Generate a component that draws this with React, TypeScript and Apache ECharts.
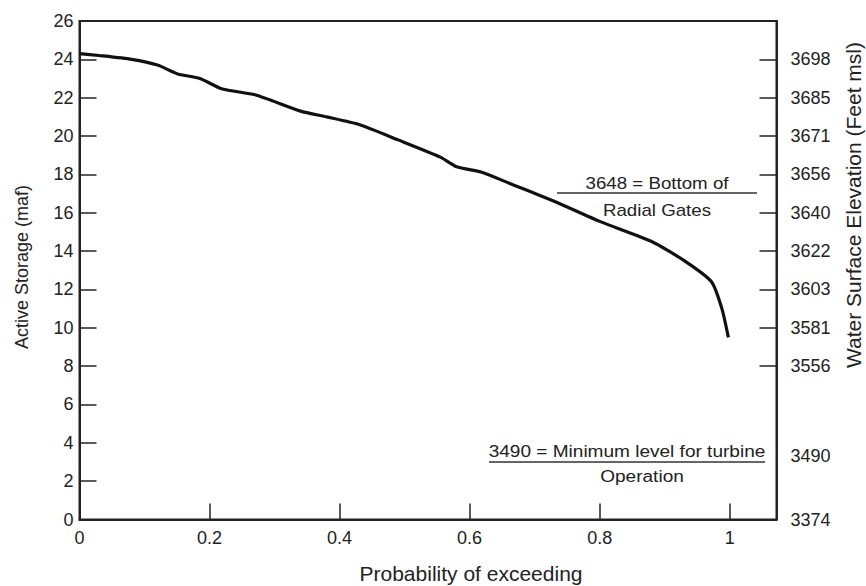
import React, { useEffect, useRef } from "react";
import * as echarts from "echarts";

const probability = [0, 0.03, 0.08, 0.12, 0.15, 0.185, 0.22, 0.27, 0.34, 0.38, 0.43, 0.49, 0.555, 0.58, 0.62, 0.66, 0.73, 0.8, 0.88, 0.93, 0.972, 0.988, 0.998];
const storage = [24.3, 24.2, 24.0, 23.7, 23.25, 23.0, 22.45, 22.15, 21.3, 21.0, 20.6, 19.8, 18.9, 18.4, 18.1, 17.55, 16.6, 15.55, 14.5, 13.5, 12.4, 11.0, 9.5];

const leftTickValues = [2, 4, 6, 8, 10, 12, 14, 16, 18, 20, 22, 24];
const elevationStorage = [0, 3.3, 8, 10, 12, 14, 16, 18, 20, 22, 24];
const elevationLabels = ["3374", "3490", "3556", "3581", "3603", "3622", "3640", "3656", "3671", "3685", "3698"];
const elevationTickValues = [8, 10, 12, 14, 16, 18, 20, 22, 24];
const xTickValues = [0.2, 0.4, 0.6, 0.8, 1];
const xLabelValues = [0, 0.2, 0.4, 0.6, 0.8, 1];

const FONT = "Liberation Sans, Arial, sans-serif";
const TXT = "#222";

export default function App() {
  const ref = useRef<HTMLDivElement>(null);
  useEffect(() => {
    document.body.style.margin = "0";
    const chart = echarts.init(ref.current!, null, { renderer: "svg" });
    const data = probability.map((p, i) => [p, storage[i]]);
    const txt = (text: string, x: number, y: number, size: number, opts: any = {}) => ({
      type: "text", x, y, ...opts,
      style: { text, fill: TXT, font: `${size}px ${FONT}`, textAlign: "center", textVerticalAlign: "middle" },
    });
    chart.setOption({
      animation: false,
      grid: {
        left: 79.5, right: 89.5, top: 21, bottom: 66.5,
        show: true, borderColor: "#222", borderWidth: 2, backgroundColor: "transparent",
      },
      xAxis: {
        type: "value", min: 0, max: 1.072,
        splitLine: { show: false },
        axisLine: { show: true, onZero: false, lineStyle: { color: "#222", width: 2 } },
        axisTick: { show: true, inside: true, length: 16, customValues: xTickValues, lineStyle: { color: "#222", width: 1.5 } },
        axisLabel: {
          customValues: xLabelValues, color: TXT, fontFamily: FONT, fontSize: 18, margin: 9,
          formatter: (v: number) => String(Math.round(v * 10) / 10),
        },
      },
      yAxis: [
        {
          type: "value", min: 0, max: 26, interval: 2, position: "left",
          splitLine: { show: false },
          axisLine: { show: true, lineStyle: { color: "#222", width: 2 } },
          axisTick: { show: true, inside: true, length: 17, customValues: leftTickValues, lineStyle: { color: "#222", width: 1.5 } },
          axisLabel: { color: TXT, fontFamily: FONT, fontSize: 18, margin: 6 },
        },
        {
          type: "value", min: 0, max: 26, position: "right",
          splitLine: { show: false },
          axisLine: { show: true, lineStyle: { color: "#222", width: 2 } },
          axisTick: { show: true, inside: true, length: 17, customValues: elevationTickValues, lineStyle: { color: "#222", width: 1.5 } },
          axisLabel: {
            customValues: elevationStorage, color: TXT, fontFamily: FONT, fontSize: 18, margin: 14,
            formatter: (v: number) => {
              let best = 0;
              elevationStorage.forEach((s, i) => { if (Math.abs(s - v) < Math.abs(elevationStorage[best] - v)) best = i; });
              return elevationLabels[best];
            },
          },
        },
      ],
      series: [
        {
          type: "line", data, showSymbol: false, smooth: 0.2,
          lineStyle: { color: "#111", width: 3.2 },
        },
      ],
      graphic: [
        txt("Active Storage (maf)", 22, 267, 18, { rotation: Math.PI / 2 }),
        txt("Water Surface Elevation (Feet msl)", 853, 205, 21, { rotation: Math.PI / 2 }),
        txt("Probability of exceeding", 471, 573, 21),
        txt("3648 = Bottom of", 657, 183, 16, { scaleX: 1.17 }),
        { type: "line", shape: { x1: 557, y1: 193, x2: 757, y2: 193 }, style: { stroke: "#333", lineWidth: 1.5 } },
        txt("Radial Gates", 657, 210, 16, { scaleX: 1.17 }),
        txt("3490 = Minimum level for turbine", 627, 452, 16, { scaleX: 1.19 }),
        { type: "line", shape: { x1: 489, y1: 462, x2: 765, y2: 462 }, style: { stroke: "#333", lineWidth: 1.5 } },
        txt("Operation", 642, 477, 16, { scaleX: 1.19 }),
      ],
    });
    return () => chart.dispose();
  }, []);
  return <div ref={ref} style={{ width: 866, height: 586 }} />;
}
